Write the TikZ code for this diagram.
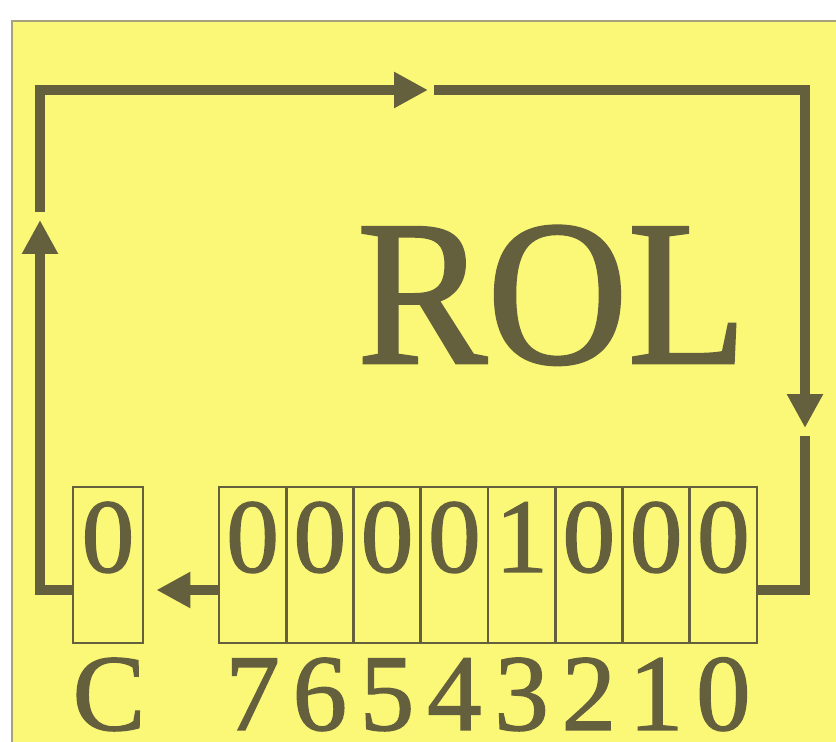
\documentclass[tikz,border=0pt]{standalone}
\usepackage{fontspec}
\setmainfont{Liberation Serif}
\newfontfamily\inkfont{Liberation Serif}[FakeBold=1.3]
\usetikzlibrary{
    arrows.meta,
    positioning,
    calc
}
\definecolor{ink}{RGB}{100,95,60}
\definecolor{paper}{RGB}{250,248,118}
\definecolor{edge}{RGB}{165,162,125}
\tikzset{
    % --- Thick rotation path ---
    loop line/.style = {
        draw=ink, line width=5.5pt, line join=miter
    },
    % --- Same path ending in a big solid head ---
    loop arrow/.style = {
        loop line, -{Triangle[length=0.68cm, width=0.68cm]}
    },
    % --- One bit of the register ---
    cell/.style = {
        rectangle, draw=ink, line width=1.6pt,
        minimum width=1.345cm, minimum height=3.12cm,
        inner sep=0pt
    },
    % --- Carry flag box ---
    carry cell/.style = {
        cell, minimum width=1.4cm
    },
    % --- Bit value inside a cell ---
    bit/.style = {
        font=\inkfont\fontsize{60}{60}\selectfont, text=ink,
        anchor=base, inner sep=0pt, text depth=0pt
    },
    % --- Bit number under a cell ---
    index/.style = {
        font=\inkfont\fontsize{62}{62}\selectfont, text=ink,
        anchor=base, inner sep=0pt, text depth=0pt
    },
    % --- Mnemonic ---
    title/.style = {
        font=\inkfont\fontsize{118}{118}\selectfont, text=ink,
        anchor=base, inner sep=0pt, text depth=0pt, xscale=0.94
    }
}

\begin{document}
\begin{tikzpicture}[x=0.02cm, y=-0.02cm]

% ---------------------------------------------------------
% Page and panel
% ---------------------------------------------------------
\useasboundingbox (0,0) rectangle (836,742);
\fill[white] (0,0) rectangle (836,742);
\fill[paper] (12,21) rectangle (836,742);
\draw[edge, line width=1pt] (12,742) -- (12,21) -- (836,21);

% ---------------------------------------------------------
% Register bits 7..0
% ---------------------------------------------------------
\foreach \v [count=\k from 0] in {0,0,0,0,1,0,0,0} {
    \pgfmathtruncatemacro{\b}{7-\k}
    \node[cell] (r\b) at (252.6+67.25*\k, 565) {};
    \node[bit] (v\b) at (252.6+67.25*\k, 572) {\v};
    \node[index] (n\b) at (252.6+67.25*\k, 730) {\b};
}

% ---------------------------------------------------------
% Carry flag
% ---------------------------------------------------------
\node[carry cell] (C) at (108, 565) {};
\node[bit] (vC) at (108, 572) {0};
\node[index] (nC) at (109, 730) {C};

% ---------------------------------------------------------
% Mnemonic
% ---------------------------------------------------------
\node[title] (rol) at (552, 363) {ROL};

% ---------------------------------------------------------
% Corners of the loop
% ---------------------------------------------------------
\coordinate (bl) at (40,590);
\coordinate (tl) at (40,90);
\coordinate (tr) at (805,90);
\coordinate (br) at (805,590);
\coordinate (upTip) at (40,220);
\coordinate (upGo) at (40,212);
\coordinate (topTip) at (428,90);
\coordinate (topGo) at (434,90);
\coordinate (downTip) at (805,428);
\coordinate (downGo) at (805,436);

% C -> left side -> top -> right side -> bit 0
\draw[loop arrow] (C.west |- bl) -- (bl) -- (upTip);
\draw[loop arrow] (upGo) -- (tl) -- (topTip);
\draw[loop arrow] (topGo) -- (tr) -- (downTip);
\draw[loop line] (downGo) -- (br) -- (r0.east |- br);

% bit 7 -> C
\draw[loop arrow, shorten >=0.24cm] (r7.west |- bl) -- (C.east |- bl);

\end{tikzpicture}
\end{document}
